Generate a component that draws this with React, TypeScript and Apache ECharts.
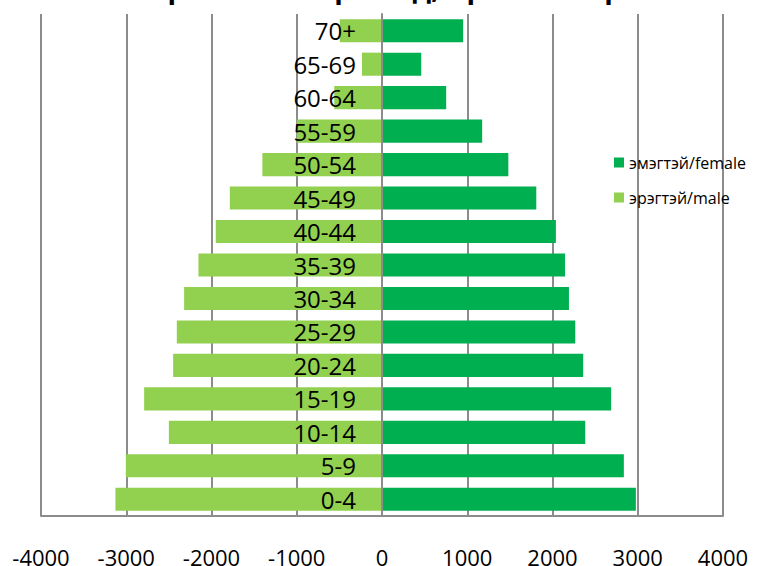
import React, { useEffect, useRef } from "react";
import * as echarts from "echarts";

const categories = ["0-4", "5-9", "10-14", "15-19", "20-24", "25-29", "30-34", "35-39", "40-44", "45-49", "50-54", "55-59", "60-64", "65-69", "70+"];
const femaleValues = [2978, 2837, 2384, 2688, 2360, 2267, 2193, 2147, 2040, 1810, 1482, 1175, 753, 460, 952];
const maleValues = [-3127, -3005, -2500, -2790, -2450, -2407, -2321, -2153, -1950, -1785, -1403, -1000, -560, -235, -495];
const seriesNames = ["эмэгтэй/female", "эрэгтэй/male"];
const titleText = "Хүн амын пирамид, хүйс насаар";

const FONT = "'Open Sans', 'Noto Sans', sans-serif";
const GRID_LEFT = 41;
const GRID_RIGHT = 44;
const W = 767;

export default function App() {
  const ref = useRef<HTMLDivElement>(null);
  useEffect(() => {
    if (!ref.current) return;
    const chart = echarts.init(ref.current, null, { renderer: "svg" });
    const plotW = W - GRID_LEFT - GRID_RIGHT;
    chart.setOption({
      animation: false,
      backgroundColor: "#ffffff",
      title: {
        text: titleText,
        left: "center",
        top: -32,
        textStyle: { fontFamily: FONT, fontWeight: "bold", fontSize: 28, color: "#000" },
      },
      legend: {
        orient: "vertical",
        left: 609,
        top: 149,
        itemWidth: 10,
        itemHeight: 10,
        itemGap: 18,
        icon: "rect",
        textStyle: { fontFamily: FONT, fontSize: 16, color: "#000", lineHeight: 17 },
        data: seriesNames,
      },
      grid: { left: GRID_LEFT, right: GRID_RIGHT, top: 14, bottom: 50, containLabel: false, outerBoundsMode: "none" },
      xAxis: {
        type: "value",
        min: -4000,
        max: 4000,
        interval: 1000,
        axisLine: { show: true, onZero: false, lineStyle: { color: "#8c8c8c", width: 2 } },
        axisTick: { show: false },
        splitLine: { show: true, lineStyle: { color: "#8c8c8c", width: 2 } },
        axisLabel: {
          margin: 32,
          fontFamily: FONT,
          fontSize: 22,
          lineHeight: 18,
          color: "#000",
          formatter: (v: number) => String(v),
        },
      },
      yAxis: {
        type: "category",
        data: categories,
        z: 10,
        offset: -plotW / 2,
        axisLine: { show: true, onZero: false, lineStyle: { color: "#8c8c8c", width: 2 } },
        axisTick: { show: false },
        axisLabel: { margin: 26, fontFamily: FONT, fontSize: 24, color: "#000" },
      },
      series: [
        {
          name: seriesNames[0],
          type: "bar",
          stack: "pop",
          data: femaleValues,
          barWidth: "69%",
          itemStyle: { color: "#00B050" },
        },
        {
          name: seriesNames[1],
          type: "bar",
          stack: "pop",
          data: maleValues,
          barWidth: "69%",
          itemStyle: { color: "#92D050" },
        },
      ],
    });
    return () => chart.dispose();
  }, []);
  return <div ref={ref} style={{ position: "fixed", left: 0, top: 0, width: 767, height: 566 }} />;
}
